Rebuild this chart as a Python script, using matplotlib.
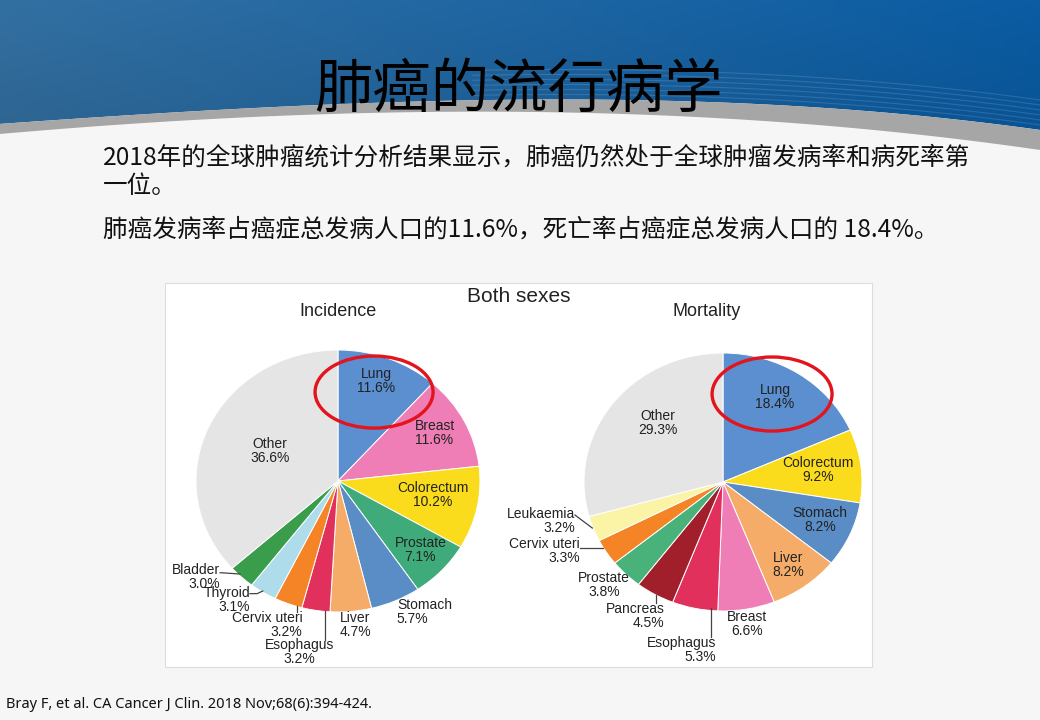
import matplotlib
matplotlib.use('Agg')
import matplotlib.pyplot as plt
from matplotlib.patches import Ellipse, Polygon, Rectangle
import numpy as np

plt.rcParams['font.family'] = ['Noto Sans CJK SC', 'DejaVu Sans']

W, H = 1040, 720

# ---- data (GLOBOCAN 2018, both sexes) ----
inc_labels = ['Lung', 'Breast', 'Colorectum', 'Prostate', 'Stomach', 'Liver',
              'Esophagus', 'Cervix uteri', 'Thyroid', 'Bladder', 'Other']
inc_values = [11.6, 11.6, 10.2, 7.1, 5.7, 4.7, 3.2, 3.2, 3.1, 3.0, 36.6]
inc_colors = ['#5b8fd0', '#ef7db6', '#fbdc1c', '#40ab7a', '#5a8cc6', '#f4ac68',
              '#e2305c', '#f48425', '#aedcea', '#3a9d4b', '#e5e5e5']

mort_labels = ['Lung', 'Colorectum', 'Stomach', 'Liver', 'Breast', 'Esophagus',
               'Pancreas', 'Prostate', 'Cervix uteri', 'Leukaemia', 'Other']
mort_values = [18.4, 9.2, 8.2, 8.2, 6.6, 5.3, 4.5, 3.8, 3.3, 3.2, 29.3]
mort_colors = ['#5b8fd0', '#fbdc1c', '#5a8cc6', '#f4ac68', '#ef7db6', '#e2305c',
               '#a11f2b', '#48b27a', '#f48425', '#fbf4a6', '#e5e5e5']

title = '肺癌的流行病学'
body = ['2018年的全球肿瘤统计分析结果显示，肺癌仍然处于全球肿瘤发病率和病死率第',
        '一位。',
        '肺癌发病率占癌症总发病人口的11.6%，死亡率占癌症总发病人口的 18.4%。']
cite = 'Bray F, et al. CA Cancer J Clin. 2018 Nov;68(6):394-424.'

# label layout in pie-radius units: x, y, ha, va, leader line
inc_layout = {
    'Lung': (0.27, 0.76, 'center', 'center', None),
    'Breast': (0.68, 0.37, 'center', 'center', None),
    'Colorectum': (0.67, -0.11, 'center', 'center', None),
    'Prostate': (0.58, -0.53, 'center', 'center', None),
    'Other': (-0.48, 0.23, 'center', 'center', None),
    'Stomach': (0.415, -0.89, 'left', 'top', None),
    'Liver': (0.014, -0.99, 'left', 'top', None),
    'Esophagus': (-0.27, -1.20, 'center', 'top', [(-0.09, -0.996), (-0.09, -1.21)]),
    'Cervix uteri': (-0.25, -0.99, 'right', 'top', [(-0.29, -0.957), (-0.29, -1.0)]),
    'Thyroid': (-0.62, -0.80, 'right', 'top', [(-0.62, -0.86), (-0.57, -0.86), (-0.53, -0.84)]),
    'Bladder': (-0.83, -0.626, 'right', 'top', [(-0.83, -0.70), (-0.69, -0.71)]),
}
mort_layout = {
    'Lung': (0.374, 0.659, 'center', 'center', None),
    'Colorectum': (0.683, 0.093, 'center', 'center', None),
    'Stomach': (0.698, -0.295, 'center', 'center', None),
    'Liver': (0.468, -0.643, 'center', 'center', None),
    'Other': (-0.468, 0.457, 'center', 'center', None),
    'Breast': (0.173, -0.99, 'center', 'top', None),
    'Esophagus': (-0.05, -1.19, 'right', 'top', [(-0.086, -0.98), (-0.086, -1.20)]),
    'Pancreas': (-0.42, -0.93, 'right', 'top', [(-0.48, -0.875), (-0.48, -0.94)]),
    'Prostate': (-0.856, -0.69, 'center', 'top', None),
    'Cervix uteri': (-1.03, -0.43, 'right', 'top', [(-1.03, -0.51), (-0.86, -0.51)]),
    'Leukaemia': (-1.065, -0.19, 'right', 'top', [(-1.065, -0.256), (-0.94, -0.357)]),
}

fig = plt.figure(figsize=(W / 100, H / 100), dpi=100)

# ---- slide background ----
bg = fig.add_axes([0, 0, 1, 1])
bg.set_xlim(0, W)
bg.set_ylim(H, 0)
bg.axis('off')
bg.add_patch(Rectangle((0, 0), W, H, color='#f6f6f6', zorder=0))

xs = np.linspace(0, W, 300)
blue_edge = np.polyval(np.polyfit([0, 250, 520, 780, 1040], [124, 108, 100, 105, 130], 3), xs)
grey_edge = np.polyval(np.polyfit([0, 250, 520, 780, 1040], [134, 117, 112, 122, 150], 3), xs)

left = np.array([0x33, 0x70, 0xa2]) / 255
right = np.array([0x0a, 0x5c, 0xa4]) / 255
t = np.linspace(0, 1, 400)[None, :, None]
v = np.linspace(0, 1, 100)[:, None, None]
grad = left * (1 - t) + right * t
grad = grad * (1 - 0.12 * v)
grad = np.clip(grad, 0, 1)
im = bg.imshow(grad, extent=[0, W, 160, 0], aspect='auto', zorder=1)
blue_poly = Polygon(list(zip(xs, blue_edge)) + [(W, 0), (0, 0)], closed=True,
                    transform=bg.transData)
im.set_clip_path(blue_poly)

grey_pts = list(zip(xs, blue_edge)) + list(zip(xs[::-1], grey_edge[::-1]))
bg.add_patch(Polygon(grey_pts, closed=True, fc='#a6a6a6', ec='none', zorder=2))

# faint swoosh lines
mask = xs > 470
for k in range(6):
    yy = blue_edge - 5 - 5 * k
    bg.plot(xs[mask], yy[mask], color='white', alpha=0.13, lw=0.8, zorder=3)

# chart box
bg.add_patch(Rectangle((165, 283), 707, 384, fc='white', ec='#dcdcdc', lw=0.8, zorder=3))

# ---- slide text ----
bg.text(519, 90, title, fontsize=42, ha='center', va='center', color='black',
        fontweight='light', zorder=5)
bg.text(103, 158, body[0], fontsize=17.7, ha='left', va='center', color='#111111', zorder=5)
bg.text(103, 186, body[1], fontsize=17.7, ha='left', va='center', color='#111111', zorder=5)
bg.text(103, 230, body[2], fontsize=17.7, ha='left', va='center', color='#111111', zorder=5)
bg.text(6, 705, cite, fontsize=10.5, ha='left', va='center', color='#111111',
        family=['Noto Sans', 'DejaVu Sans'], zorder=5)

chart_font = ['Liberation Sans', 'DejaVu Sans']
bg.text(519, 296, 'Both sexes', fontsize=15, ha='center', va='center', color='#222222',
        family=chart_font, zorder=5)
bg.text(338, 312, 'Incidence', fontsize=13, ha='center', va='center', color='#222222',
        family=chart_font, zorder=5)
bg.text(707, 312, 'Mortality', fontsize=13, ha='center', va='center', color='#222222',
        family=chart_font, zorder=5)


def draw_pie(cx, cy, rx, ry, labels, values, colors, layout, ring):
    ax = fig.add_axes([(cx - rx) / W, 1 - (cy + ry) / H, 2 * rx / W, 2 * ry / H])
    ax.pie(values, colors=colors, startangle=90, counterclock=False,
           wedgeprops=dict(edgecolor='white', linewidth=0.7))
    ax.set_aspect('auto')
    ax.set_xlim(-1, 1)
    ax.set_ylim(-1, 1)
    ax.axis('off')
    for name, val in zip(labels, values):
        x, y, ha, va, leader = layout[name]
        ax.text(x, y, f'{name}\n{val:.1f}%', ha=ha, va=va, fontsize=10,
                color='#222222', family=chart_font, linespacing=1.0, zorder=6)
        if leader:
            lx, ly = zip(*leader)
            ax.plot(lx, ly, color='#444444', lw=0.9, clip_on=False, zorder=6)
    ex, ey, ew, eh = ring
    ax.add_patch(Ellipse((ex, ey), ew, eh, fill=False, ec='#e3141b', lw=2.4,
                         clip_on=False, zorder=7))
    return ax


draw_pie(338, 481, 142, 131, inc_labels, inc_values, inc_colors, inc_layout,
         (0.254, 0.679, 0.831, 0.55))
draw_pie(723, 482, 139, 129, mort_labels, mort_values, mort_colors, mort_layout,
         (0.353, 0.682, 0.863, 0.574))

fig.savefig('out.png', dpi=100)
